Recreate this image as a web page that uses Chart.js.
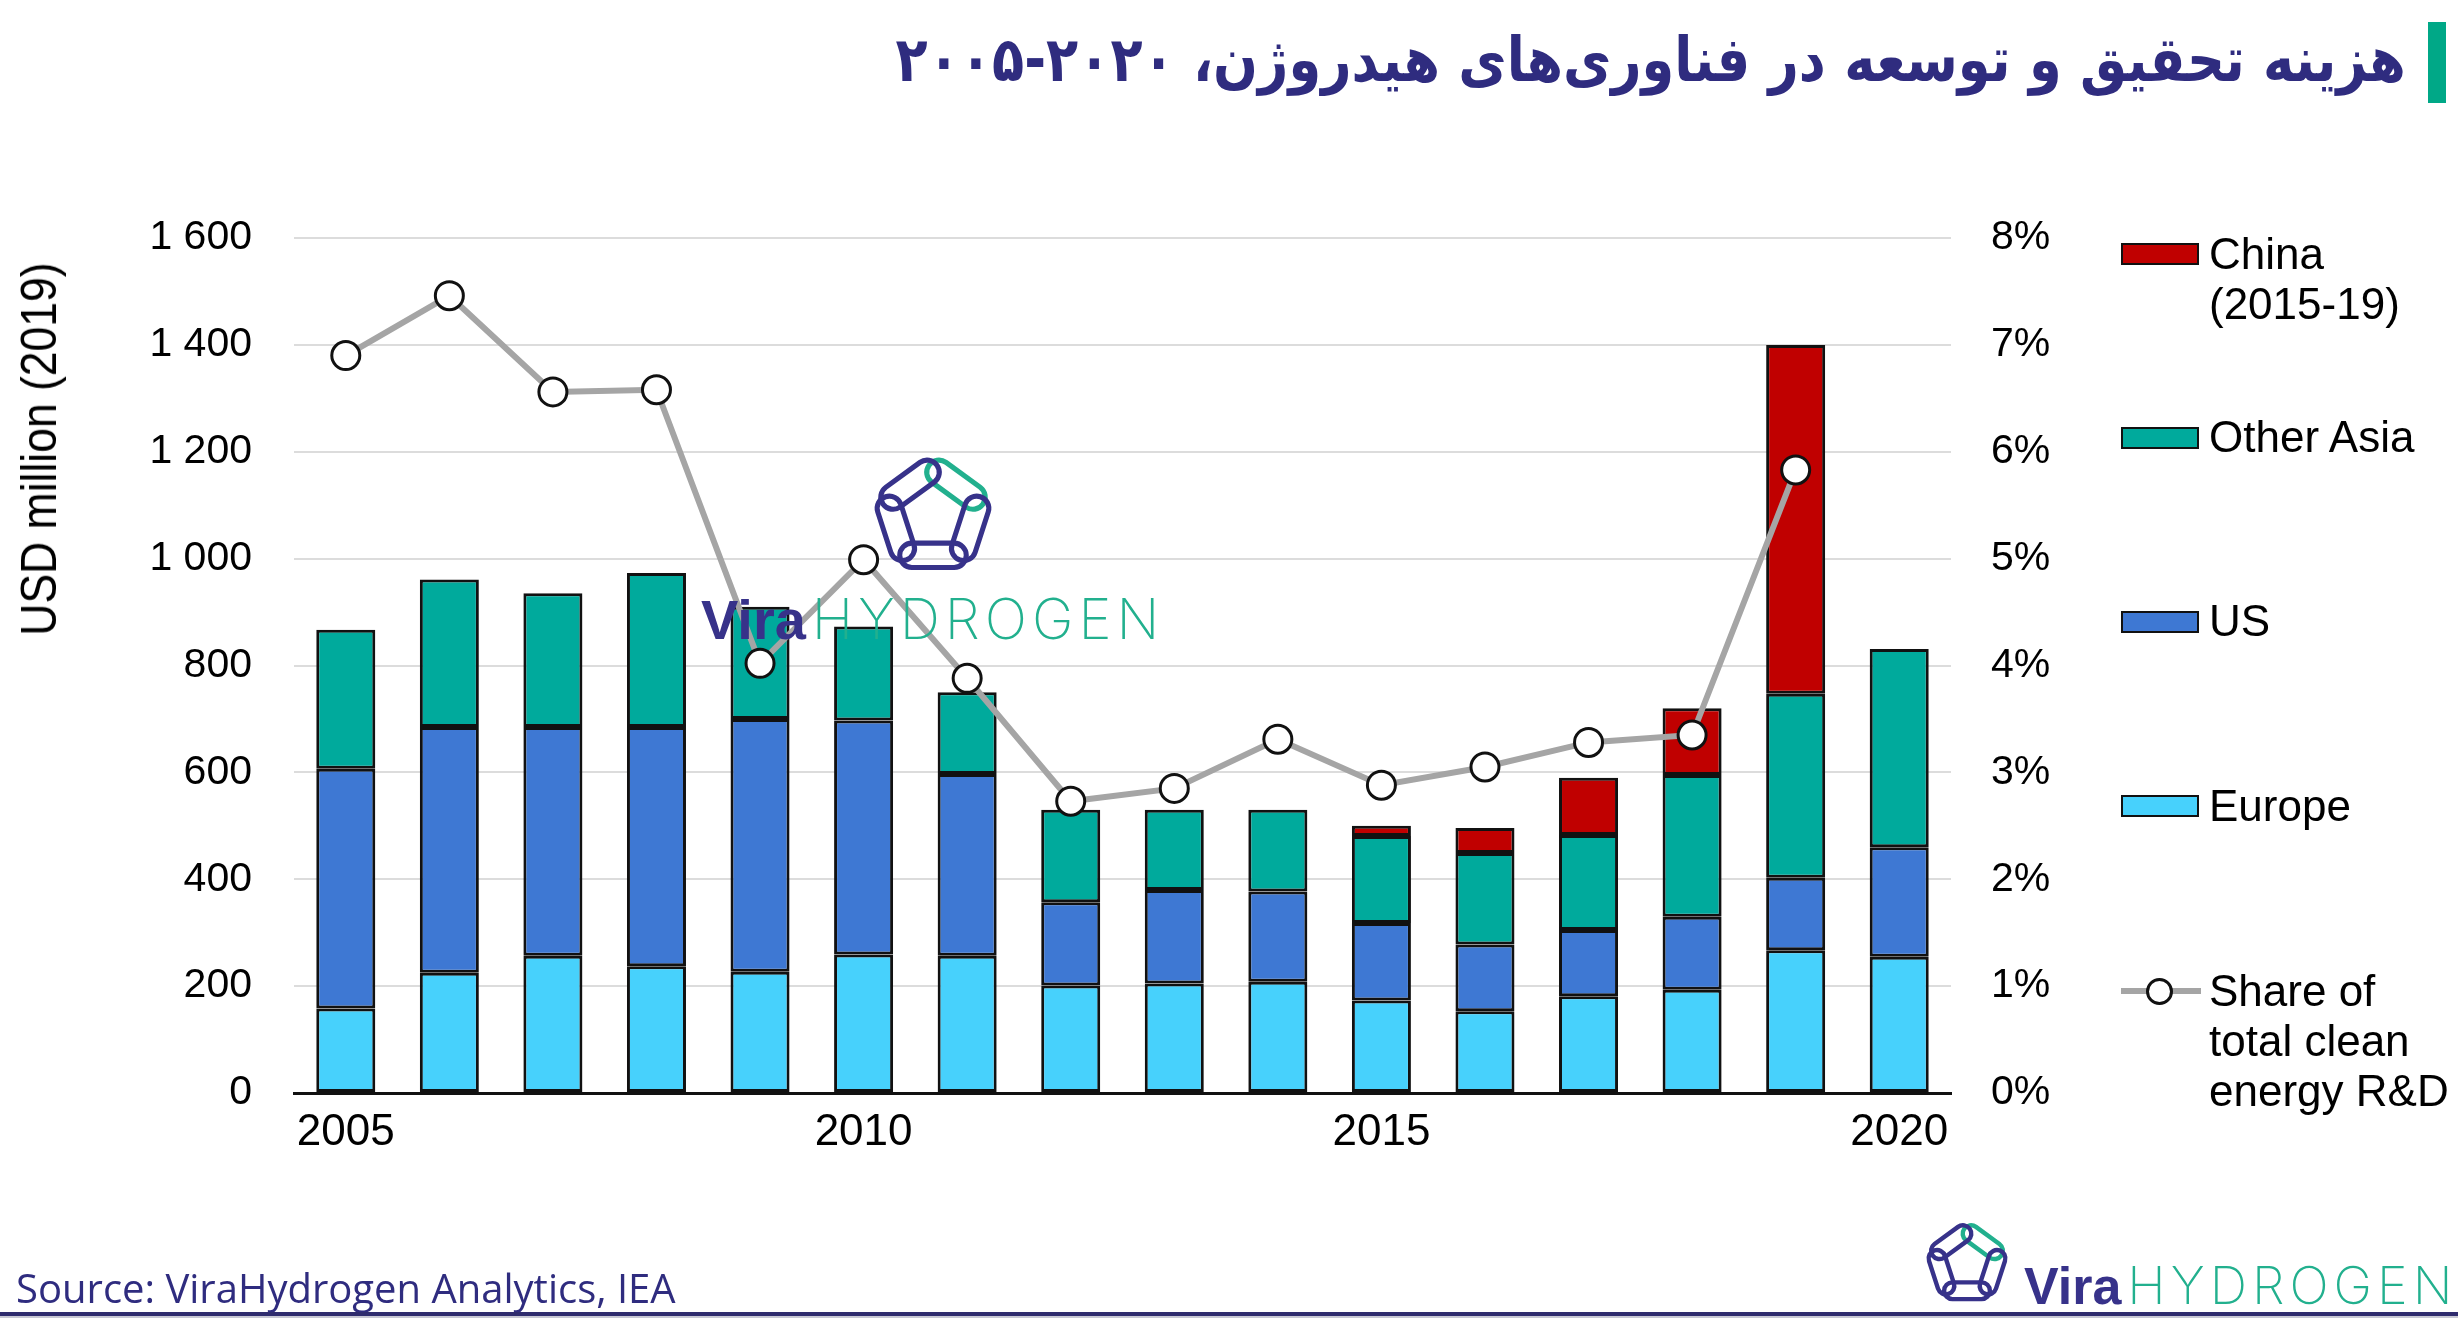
<!DOCTYPE html>
<html>
<head>
<meta charset="utf-8">
<script src="https://cdn.jsdelivr.net/npm/chart.js@4.4.1/dist/chart.umd.min.js"></script>
<style>
  html, body { margin:0; padding:0; background:#fff; }
  body { width:2458px; height:1323px; position:relative; overflow:hidden; font-family:'Liberation Sans', Arial, sans-serif; }
  #wrap { position:absolute; left:0; top:0; width:2458px; height:1323px; }
  .abs { position:absolute; white-space:nowrap; }
  .sw { position:absolute; left:2121px; width:74px; height:18px; border:2px solid #111; }
  .lt { position:absolute; left:2209px; font-size:44px; line-height:50px; color:#000; }
  .logo-v { font-family:'Liberation Sans', Arial, sans-serif; font-weight:bold; color:#37328a; }
  .logo-h { font-family:Inter, 'Open Sans', sans-serif; font-weight:200; color:#22b08e; letter-spacing:5px; }
</style>
</head>
<body>
<div id="wrap"><canvas id="rdChart"></canvas></div>

<div class="abs" id="title" style="right:52px; top:20px; direction:rtl; font-family:'DejaVu Sans', sans-serif; font-weight:bold; font-size:62px; line-height:80px; color:#2f2c7f; transform:scaleX(0.85); transform-origin:right center;">هزینه تحقیق و توسعه در فناوری‌های هیدروژن، ۲۰۲۰-۲۰۰۵</div>
<div class="abs" style="left:2428px; top:22px; width:18px; height:81px; background:#00a887;"></div>

<div class="abs" style="left:39px; top:449px; transform:translate(-50%,-50%) rotate(-90deg) scaleX(0.89); font-family:'Liberation Sans Narrow', 'Liberation Sans', sans-serif; font-size:50px; color:#000;">USD million (2019)</div>

<span class="sw" style="top:243px; background:#c00000;"></span>
<div class="lt" style="top:229px;">China<br>(2015-19)</div>
<span class="sw" style="top:427px; background:#00aa9c;"></span>
<div class="lt" style="top:412px;">Other Asia</div>
<span class="sw" style="top:611px; background:#3e78d3;"></span>
<div class="lt" style="top:596px;">US</div>
<span class="sw" style="top:795px; background:#47d1fc;"></span>
<div class="lt" style="top:781px;">Europe</div>
<div class="abs" style="left:2121px; top:988px; width:80px; height:6px; background:#a5a5a5;"></div>
<div class="abs" style="left:2146px; top:978px; width:27px; height:27px; border-radius:50%; background:#fff; border:3px solid #111; box-sizing:border-box;"></div>
<div class="lt" style="top:966px;">Share of<br>total clean<br>energy R&amp;D</div>

<!-- watermark -->
<svg class="abs" style="left:868px; top:451px;" width="130" height="128" viewBox="0 0 100 100">
  <g fill="none" stroke-width="4">
    <g transform="translate(50,51) rotate(-54)"><rect x="21" y="-26" width="19" height="52" rx="9.5" stroke="#22b08e"/></g>
    <g transform="translate(50,51) rotate(18)"><rect x="21" y="-26" width="19" height="52" rx="9.5" stroke="#37328a"/></g>
    <g transform="translate(50,51) rotate(90)"><rect x="21" y="-26" width="19" height="52" rx="9.5" stroke="#37328a"/></g>
    <g transform="translate(50,51) rotate(162)"><rect x="21" y="-26" width="19" height="52" rx="9.5" stroke="#37328a"/></g>
    <g transform="translate(50,51) rotate(234)"><rect x="21" y="-26" width="19" height="52" rx="9.5" stroke="#37328a"/></g>
  </g>
</svg>
<div class="abs" style="left:701px; top:587px; font-size:56px; line-height:64px;"><span class="logo-v">Vira</span><span class="logo-h" style="margin-left:6px;">HYDROGEN</span></div>

<!-- footer -->
<div class="abs" style="left:16px; top:1262px; font-family:'Open Sans', sans-serif; font-size:40px; line-height:52px; color:#2f2c7f;">Source: ViraHydrogen Analytics, IEA</div>
<svg class="abs" style="left:1923px; top:1219px;" width="88" height="88" viewBox="0 0 100 100">
  <g fill="none" stroke-width="5">
    <g transform="translate(50,51) rotate(-54)"><rect x="21" y="-26" width="19" height="52" rx="9.5" stroke="#22b08e"/></g>
    <g transform="translate(50,51) rotate(18)"><rect x="21" y="-26" width="19" height="52" rx="9.5" stroke="#37328a"/></g>
    <g transform="translate(50,51) rotate(90)"><rect x="21" y="-26" width="19" height="52" rx="9.5" stroke="#37328a"/></g>
    <g transform="translate(50,51) rotate(162)"><rect x="21" y="-26" width="19" height="52" rx="9.5" stroke="#37328a"/></g>
    <g transform="translate(50,51) rotate(234)"><rect x="21" y="-26" width="19" height="52" rx="9.5" stroke="#37328a"/></g>
  </g>
</svg>
<div class="abs" style="left:2024px; top:1256px; font-size:52px; line-height:60px;"><span class="logo-v">Vira</span><span class="logo-h" style="margin-left:6px;">HYDROGEN</span></div>
<div class="abs" style="left:0; top:1312px; width:2458px; height:4px; background:#2f2c6e;"></div>
<div class="abs" style="left:0; top:1316px; width:2458px; height:2px; background:#c8c8d4;"></div>

<script>
const years = ['2005','2006','2007','2008','2009','2010','2011','2012','2013','2014','2015','2016','2017','2018','2019','2020'];
const europe    = [158, 225, 257, 237, 227, 259, 257, 201, 205, 208, 173, 153, 181, 193, 267, 255];
const us        = [449, 460, 428, 448, 473, 438, 340, 156, 175, 169, 145, 125, 124, 137, 136, 205];
const otherAsia = [260, 276, 250, 288, 210, 176, 153, 173, 150, 153, 163, 171, 178, 265, 344, 371];
const china     = [null, null, null, null, null, null, null, null, null, null, 19, 47, 107, 125, 653, null];
const shareClean = [6.90, 7.46, 6.56, 6.58, 4.02, 4.99, 3.88, 2.73, 2.85, 3.31, 2.88, 3.05, 3.28, 3.35, 5.83, null];
const shownYears = ['2005','2010','2015','2020'];

Chart.defaults.font.family = "'Liberation Sans', Arial, sans-serif";
Chart.defaults.color = '#000';

function bar(label, data, color){
  return { type:'bar', label, data, backgroundColor:color, borderColor:'#111', borderWidth:3,
           borderSkipped:false, stack:'rd', yAxisID:'y', order:1,
           barPercentage:0.57, categoryPercentage:1 };
}

function fmtThousands(v){
  if (v < 1000) return String(v);
  return Math.floor(v/1000) + ' ' + String(v % 1000).padStart(3,'0');
}

const ctx = document.getElementById('rdChart');
new Chart(ctx, {
  data: {
    labels: years,
    datasets: [
      bar('Europe', europe, '#47d1fc'),
      bar('US', us, '#3e78d3'),
      bar('Other Asia', otherAsia, '#00aa9c'),
      bar('China (2015-19)', china, '#c00000'),
      { type:'line', label:'Share of total clean energy R&D', data:shareClean, yAxisID:'y1', order:0,
        borderColor:'#a5a5a5', borderWidth:6, pointRadius:14, pointBorderWidth:3,
        pointBackgroundColor:'#fff', pointBorderColor:'#111', tension:0 }
    ]
  },
  options: {
    responsive:true, maintainAspectRatio:false, animation:false,
    layout:{ padding:{ top:238, left:0, right:0, bottom:0 } },
    plugins:{ legend:{ display:false }, tooltip:{ enabled:false } },
    scales:{
      x:{
        stacked:true,
        grid:{ display:false, drawTicks:false },
        border:{ display:true, color:'#111', width:3 },
        ticks:{ autoSkip:false, maxRotation:0, padding:13, font:{ size:44 },
                callback(v, i){ return shownYears.includes(years[i]) ? years[i] : ''; } },
        afterFit(s){ s.height = 230; }
      },
      y:{
        stacked:true, min:0, max:1600,
        grid:{ color:'#dcdcdc', lineWidth:2, drawTicks:false },
        border:{ display:false },
        ticks:{ stepSize:200, padding:42, font:{ size:41 }, callback:v => fmtThousands(v) },
        afterFit(s){ s.width = 294; }
      },
      y1:{
        position:'right', min:0, max:8,
        grid:{ drawOnChartArea:false, drawTicks:false },
        border:{ display:false },
        ticks:{ stepSize:1, padding:40, font:{ size:41 }, callback:v => v + '%' },
        afterFit(s){ s.width = 507; }
      }
    }
  }
});
</script>
</body>
</html>
